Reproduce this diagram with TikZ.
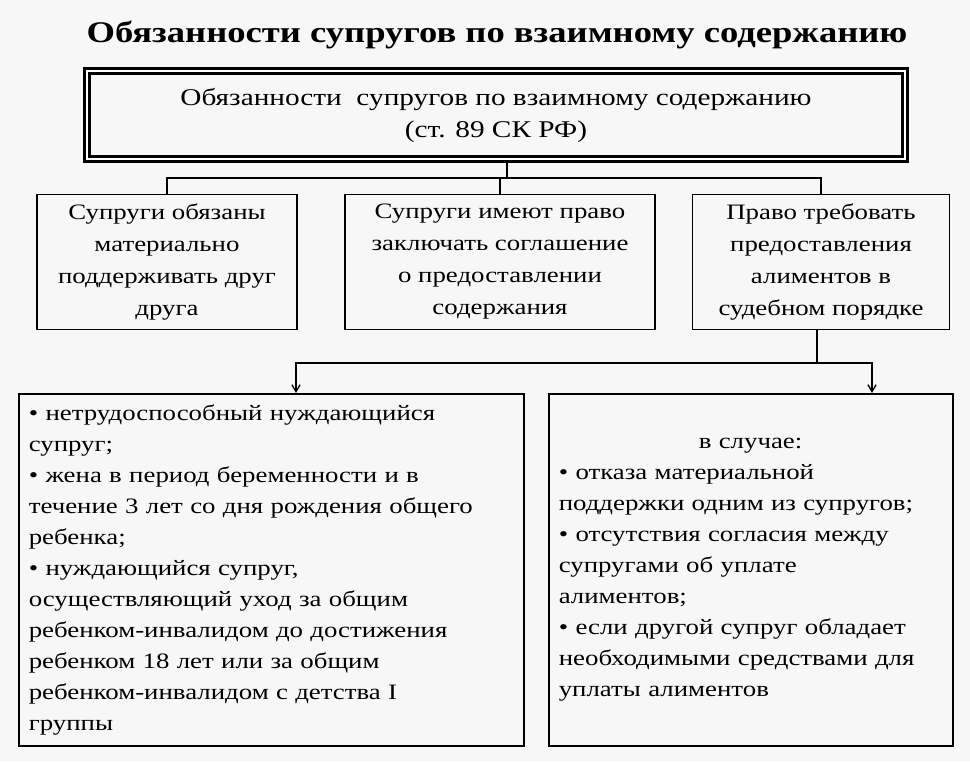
\documentclass[tikz,border=0pt]{standalone}
\usetikzlibrary{arrows.meta}
\usepackage{fontspec}
\setmainfont{Liberation Serif}[FakeStretch=1.22]
\begin{document}
\begin{tikzpicture}[x=1pt,y=-1pt,
  box/.style={draw,line width=1.6pt,minimum width=#1,minimum height=135pt,align=center,font=\fontsize{22}{32}\selectfont,inner sep=2pt},
  big/.style={draw,line width=1.6pt,text width=#1,minimum height=352pt,align=left,font=\fontsize{22}{31}\selectfont,anchor=north west,inner xsep=10pt,inner ysep=6pt},
  ln/.style={line width=1.3pt},
  arr/.style={line width=1.3pt,-{Straight Barb[length=7pt,width=8pt]}}]
\fill[gray!6] (0,0) rectangle (970,761);
\useasboundingbox (0,0) rectangle (970,761);
\node[font=\fontsize{30}{32}\selectfont\bfseries] (title) at (497,35) {Обязанности супругов по взаимному содержанию};
\node[draw,line width=3pt,double,double distance=2pt,minimum width=818pt,minimum height=88pt,align=center,font=\fontsize{24}{32}\selectfont] (top) at (496,115) {Обязанности\ \ супругов по взаимному содержанию\\(ст. 89 СК РФ)};
\node[box=260pt] (b1) at (167,262) {Супруги обязаны\\материально\\поддерживать друг\\друга};
\node[box=310pt] (b2) at (500,262) {Супруги имеют право\\заключать соглашение\\о предоставлении\\содержания};
\node[box=257pt] (b3) at (821,262) {Право требовать\\предоставления\\алиментов в\\судебном порядке};
\node[big=485pt] (l) at (18,393) {• нетрудоспособный нуждающийся\\супруг;\\• жена в период беременности и в\\течение 3 лет со дня рождения общего\\ребенка;\\• нуждающийся супруг,\\осуществляющий уход за общим\\ребенком-инвалидом до достижения\\ребенком 18 лет или за общим\\ребенком-инвалидом с детства I\\группы};
\node[big=384pt] (r) at (548,393) {\hspace*{140pt}в случае:\\• отказа материальной\\поддержки одним из супругов;\\• отсутствия согласия между\\супругами об уплате\\алиментов;\\• если другой супруг обладает\\необходимыми средствами для\\уплаты алиментов};
\coordinate (j1) at (507,178);
\draw[ln] (top.south -| j1) -- (j1);
\draw[ln] (b1.north) |- (j1) -| (b3.north);
\draw[ln] (b2.north) -- (b2.north |- j1);
\coordinate (j2) at (817,363);
\draw[ln] (b3.south -| j2) -- (j2);
\draw[arr] (j2) -| (296,393);
\draw[arr] (j2) -| (872,393);
\end{tikzpicture}
\end{document}
